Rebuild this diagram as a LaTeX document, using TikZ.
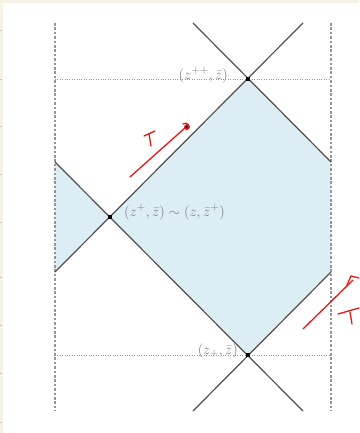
\documentclass[tikz,border=0pt]{standalone}
\usetikzlibrary{arrows.meta}
\definecolor{cream}{RGB}{246,243,230}
\definecolor{regionblue}{RGB}{220,237,244}
\definecolor{edgegray}{RGB}{80,80,80}
\definecolor{guidegray}{RGB}{150,150,150}
\definecolor{labelgray}{RGB}{125,125,125}
\definecolor{annot}{RGB}{228,24,24}
\begin{document}
\begin{tikzpicture}[x=1pt,y=-1pt,
  edge/.style={draw=edgegray,line width=1.2pt},
  vguide/.style={draw=guidegray,line width=1.2pt,dash pattern=on 2.6pt off 1.8pt},
  hguide/.style={draw=guidegray,line width=0.6pt,dash pattern=on 1pt off 1.4pt},
  vtx/.style={rectangle,fill=black,minimum size=4.6pt,inner sep=0pt},
  lbl/.style={text=labelgray,inner sep=0pt,font=\fontsize{15}{18}\selectfont},
  annot/.style={draw=annot,line width=1.3pt,line cap=round,line join=round}]
\useasboundingbox (0,0) rectangle (359,433);
\fill[cream] (0,0) rectangle (359,433);
\fill[white] (2.5,3.5) rectangle (359,433);
\foreach \t in {30,79,126,174,222,277,325,373,422}
  \draw[guidegray!60,line width=0.6pt] (0,\t) -- (2.4,\t);
% key points
\coordinate (T) at (248,79);
\coordinate (B) at (248,355);
\coordinate (L) at (110,217);
\coordinate (LU) at (55,162);
\coordinate (LD) at (55,272);
\coordinate (RU) at (331,162);
\coordinate (RD) at (331,272);
\coordinate (TL) at (193,23);
\coordinate (TR) at (303,23);
\coordinate (BL) at (193,411);
\coordinate (BR) at (303,411);
\coordinate (gLt) at (55,23);
\coordinate (gLb) at (55,411);
\coordinate (gRt) at (331,23);
\coordinate (gRb) at (331,411);
\coordinate (hLt) at (55,79);
\coordinate (hRt) at (331,79);
\coordinate (hLb) at (55,355);
\coordinate (hRb) at (331,355);
% regions
\fill[regionblue] (L) -- (T) -- (RU) -- (RD) -- (B) -- cycle;
\fill[regionblue] (LU) -- (L) -- (LD) -- cycle;
% guides
\draw[hguide] (hLt) -- (hRt);
\draw[hguide] (hLb) -- (hRb);
\draw[vguide] (gLt) -- (gLb);
\draw[vguide] (gRt) -- (gRb);
% light-cone edges
\draw[edge] (TL) -- (RU);
\draw[edge] (TR) -- (LD);
\draw[edge] (LU) -- (BR);
\draw[edge] (BL) -- (RD);
% vertices
\node[vtx] (vT) at (T) {};
\node[vtx] (vB) at (B) {};
\node[vtx] (vL) at (L) {};
% labels
\node[lbl,anchor=east] (labT) at (228,75) {$(z^{++},\bar z)$};
\node[lbl,anchor=west] (labL) at (124,212) {$(z^{+},\bar z)\sim(z,\bar z^{+})$};
\node[lbl,anchor=east] (labB) at (238,351) {$(z_{+},\bar z)$};
% red annotations
\draw[annot] (130,177) -- (186,127);
\fill[annot] (187,127) circle (2.2);
\draw[annot] (183,124) .. controls (188,121) and (191,127) .. (186,130);
\draw[annot] (144,136) -- (155,131);
\draw[annot] (149,134) -- (151,146);
\draw[annot] (303,329) -- (353,280);
\draw[annot] (347,285) -- (351,276) -- (359,278);
\draw[annot] (338,314) -- (359,308);
\draw[annot] (350,312) -- (352,324);
\end{tikzpicture}
\end{document}
